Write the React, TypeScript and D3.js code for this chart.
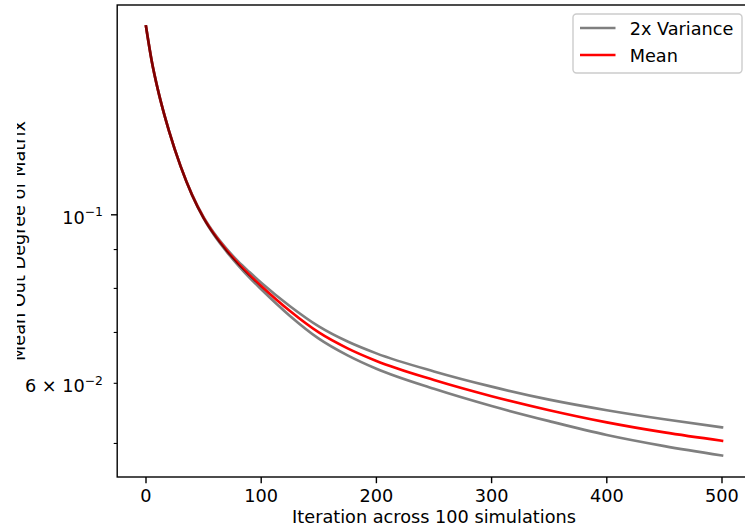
import React from "react";
import * as d3 from "d3";

// values (log y axis)
const iterations = [
  0, 5, 10, 15, 20, 30, 40, 50, 60, 70, 80, 90, 100, 125, 150, 175, 200, 250,
  300, 350, 400, 450, 500,
];
const meanValues = [
  0.177, 0.1593, 0.1468, 0.137, 0.1289, 0.1159, 0.1062, 0.0991, 0.0939, 0.0898,
  0.0863, 0.0833, 0.0806, 0.0747, 0.07, 0.0667, 0.0642, 0.0606, 0.0577, 0.0553,
  0.0533, 0.0517, 0.0504,
];
const upperValues = [
  0.177, 0.1593, 0.1468, 0.137, 0.1289, 0.1159, 0.1063, 0.0993, 0.0942, 0.0902,
  0.0868, 0.084, 0.0814, 0.0758, 0.0713, 0.0681, 0.0657, 0.0622, 0.0594, 0.0571,
  0.0553, 0.0538, 0.0525,
];
const lowerValues = [
  0.177, 0.1593, 0.1468, 0.137, 0.1289, 0.1159, 0.1061, 0.0989, 0.0936, 0.0894,
  0.0858, 0.0826, 0.0798, 0.0736, 0.0687, 0.0653, 0.0627, 0.059, 0.056, 0.0535,
  0.0513, 0.0496, 0.0482,
];
const xTicks = [0, 100, 200, 300, 400, 500];
const yMajorTicks = [0.1];
const yMinorTicks = [0.05, 0.06, 0.07, 0.08, 0.09];
const legendLabels = ["2x Variance", "Mean"];

const App = () => {
  const width = 745,
    height = 531;
  const left = 117.2,
    right = 750.8,
    top = 5,
    bottom = 477;
  const fs = 17.7;
  const font = "DejaVu Sans";

  // matplotlib style 5% margins
  const xMin = d3.min(iterations),
    xMax = d3.max(iterations);
  const xPad = (xMax - xMin) * 0.05;
  const x = d3
    .scaleLinear()
    .domain([xMin - xPad, xMax + xPad])
    .range([left, right]);

  const lo = Math.log10(d3.min(lowerValues)),
    hi = Math.log10(d3.max(upperValues));
  const yPad = (hi - lo) * 0.05;
  const y = d3
    .scaleLog()
    .domain([Math.pow(10, lo - yPad), Math.pow(10, hi + yPad)])
    .range([bottom, top]);

  const line = (vals) =>
    d3
      .line()
      .x((d, i) => x(iterations[i]))
      .y((d) => y(d))
      .curve(d3.curveMonotoneX)(vals);

  const lw = 2.65;
  const grey = { stroke: "#000", strokeOpacity: 0.5 };

  return (
    <svg
      width={width}
      height={height}
      style={{ position: "absolute", left: 0, top: 0, background: "#fff" }}
      fontFamily={font}
    >
      <defs>
        <clipPath id="plotClip">
          <rect x={left} y={top} width={right - left} height={bottom - top} />
        </clipPath>
        <clipPath id="labelClip">
          <rect x={17} y={0} width={40} height={height} />
        </clipPath>
      </defs>

      <g clipPath="url(#plotClip)" fill="none" strokeWidth={lw} strokeLinejoin="round" strokeLinecap="square">
        <path d={line(upperValues)} {...grey} />
        <path d={line(meanValues)} stroke="#ff0000" />
        <path d={line(lowerValues)} {...grey} />
      </g>

      {/* frame */}
      <rect
        x={left}
        y={top}
        width={right - left}
        height={bottom - top}
        fill="none"
        stroke="#000"
        strokeWidth={1.4}
      />

      {/* x axis */}
      {xTicks.map((t) => (
        <g key={t}>
          <line x1={x(t)} x2={x(t)} y1={bottom} y2={bottom + 6.2} stroke="#000" strokeWidth={1.4} />
          <text x={x(t)} y={502} fontSize={fs} textAnchor="middle">
            {t}
          </text>
        </g>
      ))}
      <text x={(left + right) / 2} y={523} fontSize={fs} textAnchor="middle">
        Iteration across 100 simulations
      </text>

      {/* y axis */}
      {yMajorTicks.map((t) => (
        <line key={t} x1={left - 6.2} x2={left} y1={y(t)} y2={y(t)} stroke="#000" strokeWidth={1.4} />
      ))}
      {yMinorTicks.map((t) => (
        <line key={t} x1={left - 3.5} x2={left} y1={y(t)} y2={y(t)} stroke="#000" strokeWidth={1.1} />
      ))}
      <text x={103} y={y(0.1) + 8.8} fontSize={fs} textAnchor="end">
        <tspan>10</tspan>
        <tspan fontSize={12.4} dy={-7.5}>
          −1
        </tspan>
      </text>
      <text x={103} y={y(0.06) + 9} fontSize={fs} textAnchor="end">
        <tspan>6 × 10</tspan>
        <tspan fontSize={12.4} dy={-7.5}>
          −2
        </tspan>
      </text>
      <g clipPath="url(#labelClip)">
        <text
          transform={`translate(24.5, ${(top + bottom) / 2}) rotate(-90)`}
          fontSize={fs}
          textAnchor="middle"
        >
          Mean Out Degree of Matrix
        </text>
      </g>

      {/* legend */}
      <rect
        x={573}
        y={14}
        width={169}
        height={59}
        rx={3.5}
        fill="#fff"
        fillOpacity={0.8}
        stroke="#cccccc"
        strokeWidth={1.4}
      />
      {legendLabels.map((lab, i) => {
        const ly = 28 + i * 27;
        return (
          <g key={lab}>
            <line
              x1={580}
              x2={615.5}
              y1={ly}
              y2={ly}
              strokeWidth={lw}
              {...(i === 0 ? grey : { stroke: "#ff0000" })}
            />
            <text x={629.7} y={ly + 7} fontSize={fs}>
              {lab}
            </text>
          </g>
        );
      })}
    </svg>
  );
};

export default App;
